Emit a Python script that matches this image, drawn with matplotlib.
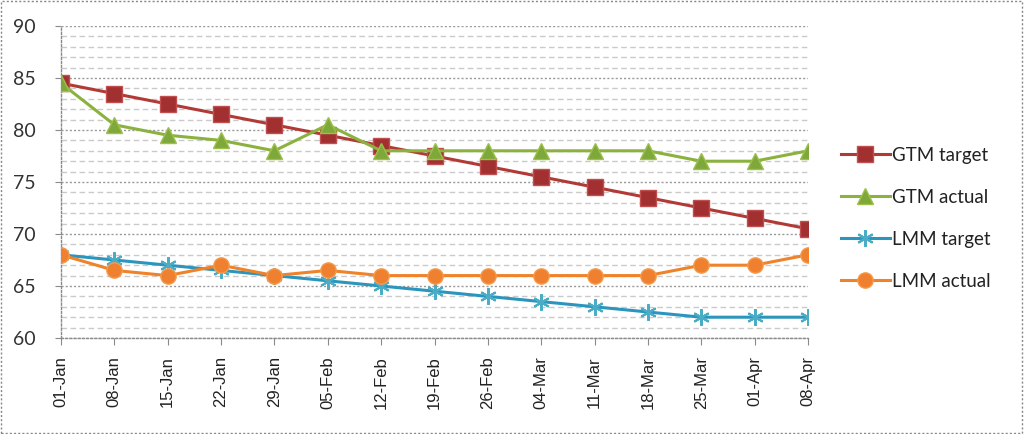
import matplotlib
matplotlib.use("Agg")
import matplotlib.pyplot as plt
from matplotlib.patches import Rectangle

dates = ["01-Jan", "08-Jan", "15-Jan", "22-Jan", "29-Jan", "05-Feb", "12-Feb", "19-Feb",
         "26-Feb", "04-Mar", "11-Mar", "18-Mar", "25-Mar", "01-Apr", "08-Apr"]
gtm_target = [84.5, 83.5, 82.5, 81.5, 80.5, 79.5, 78.5, 77.5, 76.5, 75.5, 74.5, 73.5, 72.5, 71.5, 70.5]
gtm_actual = [84.5, 80.5, 79.5, 79, 78, 80.5, 78, 78, 78, 78, 78, 78, 77, 77, 78]
lmm_target = [68, 67.5, 67, 66.5, 66, 65.5, 65, 64.5, 64, 63.5, 63, 62.5, 62, 62, 62]
lmm_actual = [68, 66.5, 66, 67, 66, 66.5, 66, 66, 66, 66, 66, 66, 67, 67, 68]
yticks = [60, 65, 70, 75, 80, 85, 90]

fig = plt.figure(figsize=(10.24, 4.34), dpi=100)
ax = fig.add_axes([61/1024, 1-338/434, (808-61)/1024, (338-26)/434])

x = list(range(len(dates)))

# gridlines
for v in range(60, 91):
    if v % 5 == 0:
        ax.axhline(v, color="#9a9a9a", lw=1.0, ls=(0, (1.5, 1.5)), zorder=0)
    else:
        ax.axhline(v, color="#cacaca", lw=1.0, ls=(0, (4, 2.5)), zorder=0)

ax.plot(x, gtm_target, color="#B23A36", lw=2.2, marker="s", ms=11,
        mfc="#A33030", mec="#C05050", label="GTM target", zorder=3)
ax.plot(x, gtm_actual, color="#8BB23F", lw=2.2, marker="^", ms=12,
        mfc="#7FA83A", mec="#9CC04A", label="GTM actual", zorder=3)
ax.plot(x, lmm_target, color="#2C95BD", lw=2.2, marker=(6, 2, 0), ms=12,
        mec="#4BACC6", mew=1.5, label="LMM target", zorder=3)
ax.plot(x, lmm_actual, color="#F0822A", lw=2.2, marker="o", ms=11,
        mfc="#EE8030", mec="#F59A4A", label="LMM actual", zorder=3)

ax.set_xlim(0, len(dates) - 1)
ax.set_ylim(60, 90)
ax.set_yticks(yticks)
ax.set_xticks(x)
ax.set_xticklabels(dates, rotation=90, fontsize=12, family="Liberation Sans", color="#222222")
for lab in ax.get_yticklabels():
    lab.set_fontsize(14)
    lab.set_family("Lato")
    lab.set_color("#333333")

for s in ["top", "right"]:
    ax.spines[s].set_visible(False)
for s in ["left", "bottom"]:
    ax.spines[s].set_color("#8a8a8a")
    ax.spines[s].set_linestyle((0, (1.5, 1.5)))
    ax.spines[s].set_linewidth(1.0)
ax.tick_params(axis="x", length=5, color="#8a8a8a", pad=8)
ax.tick_params(axis="y", length=4, color="#8a8a8a", pad=14)
ax.spines["left"].set_zorder(1)
ax.spines["bottom"].set_zorder(1)

leg = fig.legend(loc="upper left", bbox_to_anchor=(824/1024, 1-130/434), frameon=False,
                 prop={"family": "Lato", "size": 13.5}, handlelength=2.6, handletextpad=0.15,
                 labelspacing=1.33)
for t in leg.get_texts():
    t.set_color("#222222")

fig.patches.append(Rectangle((0.001, 0.002), 0.997, 0.995, transform=fig.transFigure,
                             fill=False, ec="#888888", lw=1.0, ls=(0, (1.5, 1.5))))

fig.savefig("out.png", dpi=100)
